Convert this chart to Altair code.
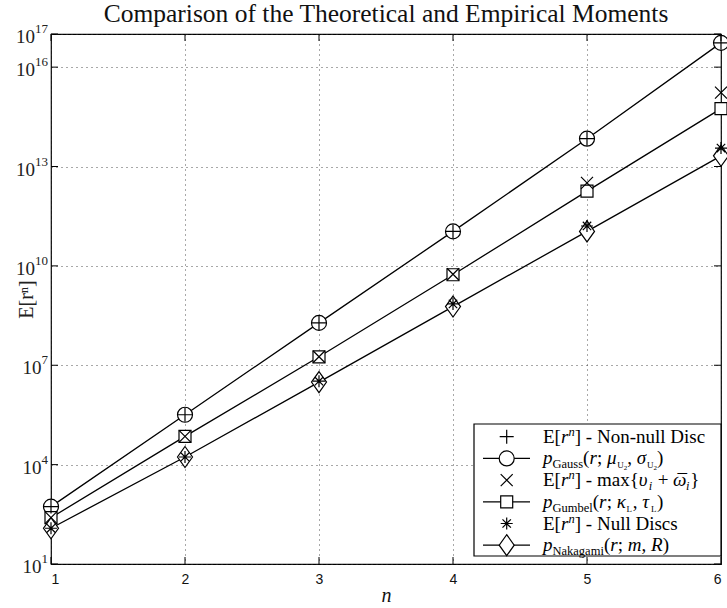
import altair as alt
import pandas as pd

# ---------------- data ----------------
n_vals = [1, 2, 3, 4, 5, 6]
nonnull_disc = [5.4e2, 3.2e5, 1.9e8, 1.1e11, 6.9e13, 5.4e16]   # + markers
p_gauss = [5.4e2, 3.2e5, 1.9e8, 1.1e11, 6.9e13, 5.4e16]        # circles + line
max_vw = [2.5e2, 7.1e4, 1.8e7, 5.6e9, 3.2e12, 1.7e15]          # x markers
p_gumbel = [2.5e2, 7.1e4, 1.8e7, 5.4e9, 1.8e12, 5.6e14]        # squares + line
null_discs = [1.2e2, 1.7e4, 3.3e6, 7.1e8, 1.6e11, 3.6e13]      # asterisks
p_nakagami = [1.2e2, 1.7e4, 3.1e6, 5.9e8, 1.1e11, 2.1e13]      # diamonds + line

y_ticks = [1e1, 1e4, 1e7, 1e10, 1e13, 1e16, 1e17]
y_tick_exp = ["1", "4", "7", "10", "13", "16", "17"]
x_ticks = [1, 2, 3, 4, 5, 6]
title_text = "Comparison of the Theoretical and Empirical Moments"
x_title = "n"
y_title = "E[rⁿ]"

# legend label runs: (text, italic, size, baseline shift[, advance])
S, s = 19, 12.5
legend_rows = [
    [("E[", 0, S, 0), ("r", 1, S, 0), ("n", 1, s, -7), ("] - Non-null Disc", 0, S, 0)],
    [("p", 1, S, 0), ("Gauss", 0, s, 4), ("(", 0, S, 0), ("r", 1, S, 0), ("; ", 0, S, 0),
     ("μ", 1, S, 0), ("U", 0, 9, 4), ("2", 0, 7, 6), (", ", 0, S, 0),
     ("σ", 1, S, 0), ("U", 0, 9, 4), ("2", 0, 7, 6), (")", 0, S, 0)],
    [("E[", 0, S, 0), ("r", 1, S, 0), ("n", 1, s, -7), ("] - max{", 0, S, 0),
     ("υ", 1, S, 0), ("i", 1, s, 4), (" + ", 0, S, 0), ("¯", 0, S, 1, False), ("ω", 1, S, 0),
     ("i", 1, s, 4), ("}", 0, S, 0)],
    [("p", 1, S, 0), ("Gumbel", 0, s, 4), ("(", 0, S, 0), ("r", 1, S, 0), ("; ", 0, S, 0),
     ("κ", 1, S, 0), ("L", 0, 9, 4), (", ", 0, S, 0), ("τ", 1, S, 0), ("L", 0, 9, 4),
     (")", 0, S, 0)],
    [("E[", 0, S, 0), ("r", 1, S, 0), ("n", 1, s, -7), ("] - Null Discs", 0, S, 0)],
    [("p", 1, S, 0), ("Nakagami", 0, s, 4), ("(", 0, S, 0), ("r", 1, S, 0), ("; ", 0, S, 0),
     ("m", 1, S, 0), (", ", 0, S, 0), ("R", 1, S, 0), (")", 0, S, 0)],
]
legend_shapes = ["plus", "circle", "cross", "square", "star", "diamond"]

# ---------------- styling / layout ----------------
W, H = 670, 530
SERIF = "Liberation Serif"
SANS = "Liberation Sans"

PATHS = {
    "plus": ("M-1,0L1,0M0,-1L0,1", 196, False),
    "circle": ("circle", 225, True),
    "cross": ("M-1,-1L1,1M-1,1L1,-1", 144, False),
    "square": ("square", 144, True),
    "star": ("M-1,0L1,0M0,-1L0,1M-0.7,-0.7L0.7,0.7M-0.7,0.7L0.7,-0.7", 144, False),
    "diamond": ("M0,-1.4L1,0L0,1.4L-1,0Z", 225, True),
}

REG = {' ': 250, '(': 333, ')': 333, '[': 333, ']': 333, '{': 480, '}': 480, '-': 333,
       '+': 564, ',': 250, ';': 278, 'E': 611, 'N': 722, 'D': 722, 'G': 722, 'L': 680,
       'R': 667, 'U': 722, 'a': 444, 'b': 500, 'c': 444, 'e': 444, 'g': 500, 'i': 278,
       'k': 500, 'l': 278, 'm': 778, 'n': 500, 'o': 500, 's': 389, 'u': 500, 'x': 500,
       '2': 500, '¯': 333}
ITA = {'r': 400, 'n': 500, 'm': 722, 'p': 500, 'i': 340, 'R': 611, 'μ': 540, 'σ': 540,
       'κ': 520, 'τ': 460, 'υ': 520, 'ω': 680}


def text_w(t, italic, fs):
    tab = ITA if italic else REG
    return sum(tab.get(ch, REG.get(ch, 500)) for ch in t) * fs / 1000.0


def mark_props(key):
    shp, size, filled = PATHS[key]
    if filled:
        return dict(shape=shp, size=size, filled=True, fill="white", stroke="black",
                    strokeWidth=1.2, opacity=1)
    return dict(shape=shp, size=size, filled=False, color="black", strokeWidth=1.2, opacity=1)


# ---------------- data tables ----------------
series = {
    "nonnull": nonnull_disc, "gauss": p_gauss, "maxvw": max_vw,
    "gumbel": p_gumbel, "null": null_discs, "nakagami": p_nakagami,
}
rows = []
for name, vals in series.items():
    for n, v in zip(n_vals, vals):
        rows.append({"series": name, "n": n, "val": v})
df = pd.DataFrame(rows)

x_enc = alt.X(
    "n:Q",
    scale=alt.Scale(domain=[1, 6], nice=False, zero=False),
    axis=alt.Axis(
        values=x_ticks, format="d", title=x_title, grid=True, gridDash=[1, 4],
        gridColor="#333", gridOpacity=0.85, gridWidth=1, ticks=False, domain=False,
        labelFont=SANS, labelFontSize=14, labelColor="#111", labelPadding=8,
        labelBaseline="top", titleFont=SERIF, titleFontStyle="italic", titleFontSize=20,
        titleFontWeight="normal", titleColor="#111", titleY=37, titleBaseline="alphabetic",
    ),
)
y_enc = alt.Y(
    "val:Q",
    scale=alt.Scale(type="log", domain=[1e1, 1e17], nice=False),
    axis=alt.Axis(
        values=y_ticks, labels=False, title=y_title, grid=True, gridDash=[1, 4],
        gridColor="#333", gridOpacity=0.85, gridWidth=1, ticks=False, domain=False,
        titleFont=SERIF, titleFontSize=20, titleFontWeight="normal", titleColor="#222",
        titleAngle=270, titleX=-19, titleY=H / 2, titleBaseline="alphabetic",
        titleAlign="center",
    ),
)

base = alt.Chart(df)
layers = []

# model lines
layers.append(
    base.transform_filter(alt.FieldOneOfPredicate(field="series", oneOf=["gauss", "gumbel", "nakagami"]))
    .mark_line(color="black", strokeWidth=1.3)
    .encode(x=x_enc, y=y_enc, detail="series:N")
)

marker_of = {"gauss": "circle", "gumbel": "square", "nakagami": "diamond",
             "nonnull": "plus", "maxvw": "cross", "null": "star"}
for name in ["gauss", "gumbel", "nakagami", "nonnull", "maxvw", "null"]:
    layers.append(
        base.transform_filter(alt.datum.series == name).mark_point(**mark_props(marker_of[name]))
        .encode(x=x_enc, y=y_enc)
    )

# inward ticks (MATLAB style)
ytk = pd.DataFrame({"val": y_ticks})
xtk = pd.DataFrame({"n": x_ticks})
layers.append(alt.Chart(ytk).mark_rule(color="black", strokeWidth=1)
              .encode(y=y_enc, x=alt.value(0), x2=alt.value(7)))
layers.append(alt.Chart(ytk).mark_rule(color="black", strokeWidth=1)
              .encode(y=y_enc, x=alt.value(W - 7), x2=alt.value(W)))
layers.append(alt.Chart(xtk).mark_rule(color="black", strokeWidth=1)
              .encode(x=x_enc, y=alt.value(H - 7), y2=alt.value(H)))
layers.append(alt.Chart(xtk).mark_rule(color="black", strokeWidth=1)
              .encode(x=x_enc, y=alt.value(0), y2=alt.value(7)))

# y tick labels: 10 with superscript exponent
lab_right = -3
sup_fs, main_fs = 13, 19
ylab = pd.DataFrame({
    "val": y_ticks,
    "sup": y_tick_exp,
    "base": ["10"] * len(y_ticks),
    "sx": [lab_right - len(e) * sup_fs * 0.5 for e in y_tick_exp],
})
layers.append(alt.Chart(ylab).mark_text(font=SERIF, fontSize=main_fs, align="right",
                                        baseline="alphabetic", dy=9, color="#222")
              .encode(y=y_enc, x=alt.X("sx:Q", scale=None, axis=None), text="base:N"))
layers.append(alt.Chart(ylab).mark_text(font=SERIF, fontSize=sup_fs, align="left",
                                        baseline="alphabetic", dy=-1, color="#222")
              .encode(y=y_enc, x=alt.X("sx:Q", scale=None, axis=None), text="sup:N"))

# chart title (text above the plot)
layers.append(alt.Chart(pd.DataFrame({"t": [title_text]}))
              .mark_text(font=SERIF, fontSize=25.5, align="center", baseline="alphabetic",
                         color="#111")
              .encode(x=alt.value(W / 2), y=alt.value(-12), text="t:N"))

# ---------------- legend (drawn inside plot, bottom right) ----------------
LX0, LX1, LY0, LY1 = 423, 670, 390, 522
row_c0, row_dy = 402.7, 21.7
sym_x, line_x0, line_x1, text_x = 455.7, 432, 479, 492

layers.append(alt.Chart(pd.DataFrame({"a": [0]})).mark_rect(fill="white", stroke="black", strokeWidth=1.2)
              .encode(x=alt.value(LX0), x2=alt.value(LX1), y=alt.value(LY0), y2=alt.value(LY1)))

seg = pd.DataFrame({
    "x1": [line_x0] * 3, "x2": [line_x1] * 3,
    "py": [row_c0 + row_dy * i for i in (1, 3, 5)],
})
layers.append(alt.Chart(seg).mark_rule(color="black", strokeWidth=1.3)
              .encode(x=alt.X("x1:Q", scale=None, axis=None), x2="x2:Q",
                      y=alt.Y("py:Q", scale=None, axis=None)))

for i, key in enumerate(legend_shapes):
    d = pd.DataFrame({"px": [sym_x], "py": [row_c0 + row_dy * i]})
    layers.append(alt.Chart(d).mark_point(**mark_props(key))
                  .encode(x=alt.X("px:Q", scale=None, axis=None),
                          y=alt.Y("py:Q", scale=None, axis=None)))

runs = []
for i, row in enumerate(legend_rows):
    x = text_x
    yb = row_c0 + row_dy * i + 6
    for run in row:
        t, it, fs, dy = run[:4]
        advance = run[4] if len(run) > 4 else True
        lead = len(t) - len(t.lstrip(" "))
        stripped = t.strip(" ")
        px = x + text_w(" " * lead, it, fs)
        if not advance:
            px += 4.5  # centre the bar over the following glyph
        runs.append({"px": px, "py": yb + dy, "t": stripped, "fs": fs, "it": it})
        if advance:
            x += text_w(t, it, fs)
runs_df = pd.DataFrame(runs)
for it in (0, 1):
    layers.append(
        alt.Chart(runs_df[runs_df["it"] == it])
        .mark_text(font=SERIF, align="left", baseline="alphabetic", color="black",
                   fontStyle="italic" if it else "normal")
        .encode(x=alt.X("px:Q", scale=None, axis=None), y=alt.Y("py:Q", scale=None, axis=None),
                text="t:N", size=alt.Size("fs:Q", scale=None, legend=None))
    )

chart = (
    alt.layer(*layers)
    .properties(
        width=W, height=H,
        padding={"left": 51, "top": 34, "right": 6, "bottom": 44},
        autosize=alt.AutoSizeParams(type="none"),
        background="white",
    )
    .configure_view(stroke="black", strokeWidth=1.2)
)

chart.save("out.html", embed_options={"renderer": "svg", "actions": False})
